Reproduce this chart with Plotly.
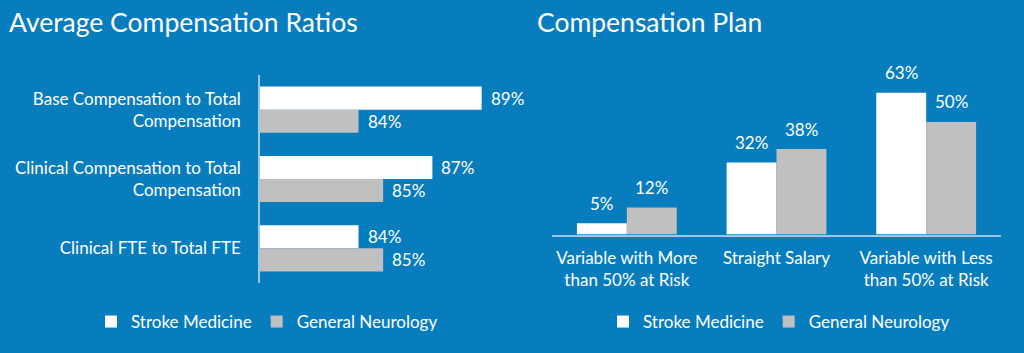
import plotly.graph_objects as go

# ---- data ----
ratio_categories = ["Base Compensation to Total<br>Compensation",
                    "Clinical Compensation to Total<br>Compensation",
                    "Clinical FTE to Total FTE"]
ratio_stroke = [89, 87, 84]
ratio_general = [84, 85, 85]

plan_categories = ["Variable with More<br>than 50% at Risk",
                   "Straight Salary",
                   "Variable with Less<br>than 50% at Risk"]
plan_stroke = [5, 32, 63]
plan_general = [12, 38, 50]

series_names = ["Stroke Medicine", "General Neurology"]
titles = ["Average Compensation Ratios", "Compensation Plan"]

# ---- style ----
BG = "#087DBE"
WHITE = "#FFFFFF"
GRAY = "#C0C0C0"
AXIS = "#9CC6E6"
FONT = "Lato"
W, H = 1024, 353


def px_x(p):
    return p / W


def px_y(p):
    return 1 - p / H


fig = go.Figure()

# left: horizontal bars
fig.add_trace(go.Bar(y=ratio_categories, x=ratio_stroke, orientation="h",
                     name=series_names[0], marker=dict(color=WHITE, line=dict(width=0)),
                     xaxis="x", yaxis="y", legend="legend", hoverinfo="skip"))
fig.add_trace(go.Bar(y=ratio_categories, x=ratio_general, orientation="h",
                     name=series_names[1], marker=dict(color=GRAY, line=dict(width=0)),
                     xaxis="x", yaxis="y", legend="legend", hoverinfo="skip"))

# right: vertical bars
fig.add_trace(go.Bar(x=plan_categories, y=plan_stroke,
                     name=series_names[0], marker=dict(color=WHITE, line=dict(width=0)),
                     xaxis="x2", yaxis="y2", legend="legend2", hoverinfo="skip"))
fig.add_trace(go.Bar(x=plan_categories, y=plan_general,
                     name=series_names[1], marker=dict(color=GRAY, line=dict(width=0)),
                     xaxis="x2", yaxis="y2", legend="legend2", hoverinfo="skip"))

annotations = []
label_font = dict(family=FONT, size=17, color=WHITE)
# left value labels
for cat, s, g in zip(ratio_categories, ratio_stroke, ratio_general):
    annotations.append(dict(x=s, y=cat, xref="x", yref="y", text=f"{s}%",
                            showarrow=False, xanchor="left", yanchor="middle",
                            xshift=7, yshift=11.5, font=label_font))
    annotations.append(dict(x=g, y=cat, xref="x", yref="y", text=f"{g}%",
                            showarrow=False, xanchor="left", yanchor="middle",
                            xshift=7, yshift=-11.5, font=label_font))
# right value labels
for cat, s, g in zip(plan_categories, plan_stroke, plan_general):
    annotations.append(dict(x=cat, y=s, xref="x2", yref="y2", text=f"{s}%",
                            showarrow=False, xanchor="center", yanchor="middle",
                            xshift=-25, yshift=20, font=label_font))
    annotations.append(dict(x=cat, y=g, xref="x2", yref="y2", text=f"{g}%",
                            showarrow=False, xanchor="center", yanchor="middle",
                            xshift=25, yshift=20, font=label_font))
# titles
title_font = dict(family=FONT, size=26.5, color=WHITE)
annotations.append(dict(x=px_x(7), y=px_y(22), xref="paper", yref="paper",
                        text=titles[0], showarrow=False, xanchor="left",
                        yanchor="middle", font=title_font))
annotations.append(dict(x=px_x(535), y=px_y(22), xref="paper", yref="paper",
                        text=titles[1], showarrow=False, xanchor="left",
                        yanchor="middle", font=title_font))

tick_font = dict(family=FONT, size=17, color=WHITE)
legend_font = dict(family=FONT, size=17, color=WHITE)

fig.update_layout(
    width=W, height=H,
    margin=dict(l=0, r=0, t=0, b=0),
    paper_bgcolor=BG, plot_bgcolor=BG,
    barmode="group", bargap=0.333, bargroupgap=0,
    font=dict(family=FONT, color=WHITE),
    xaxis=dict(domain=[px_x(260), px_x(506.3)], range=[80, 90], anchor="y",
               showgrid=False, zeroline=False, showticklabels=False,
               showline=False, fixedrange=True),
    yaxis=dict(domain=[px_y(283), px_y(75)], anchor="x", autorange="reversed",
               showgrid=False, zeroline=False, showline=True, linecolor=AXIS,
               linewidth=1.5, ticks="", tickfont=tick_font,
               ticklabelstandoff=14, fixedrange=True),
    xaxis2=dict(domain=[px_x(552), px_x(1001)], anchor="y2",
                showgrid=False, zeroline=False, showline=True, linecolor=AXIS,
                linewidth=1.5, ticks="", tickfont=tick_font,
                ticklabelstandoff=7, fixedrange=True),
    yaxis2=dict(domain=[px_y(234.5), px_y(77)], range=[0, 70], anchor="x2",
                showgrid=False, zeroline=False, showline=False,
                showticklabels=False, fixedrange=True),
    legend=dict(orientation="h", x=px_x(267), y=px_y(322), xanchor="center",
                yanchor="middle", font=legend_font, bgcolor="rgba(0,0,0,0)",
                itemclick=False, itemdoubleclick=False),
    legend2=dict(orientation="h", x=px_x(779), y=px_y(322), xanchor="center",
                 yanchor="middle", font=legend_font, bgcolor="rgba(0,0,0,0)",
                 itemclick=False, itemdoubleclick=False),
    annotations=annotations,
    showlegend=True,
)

fig.write_html("out.html")
